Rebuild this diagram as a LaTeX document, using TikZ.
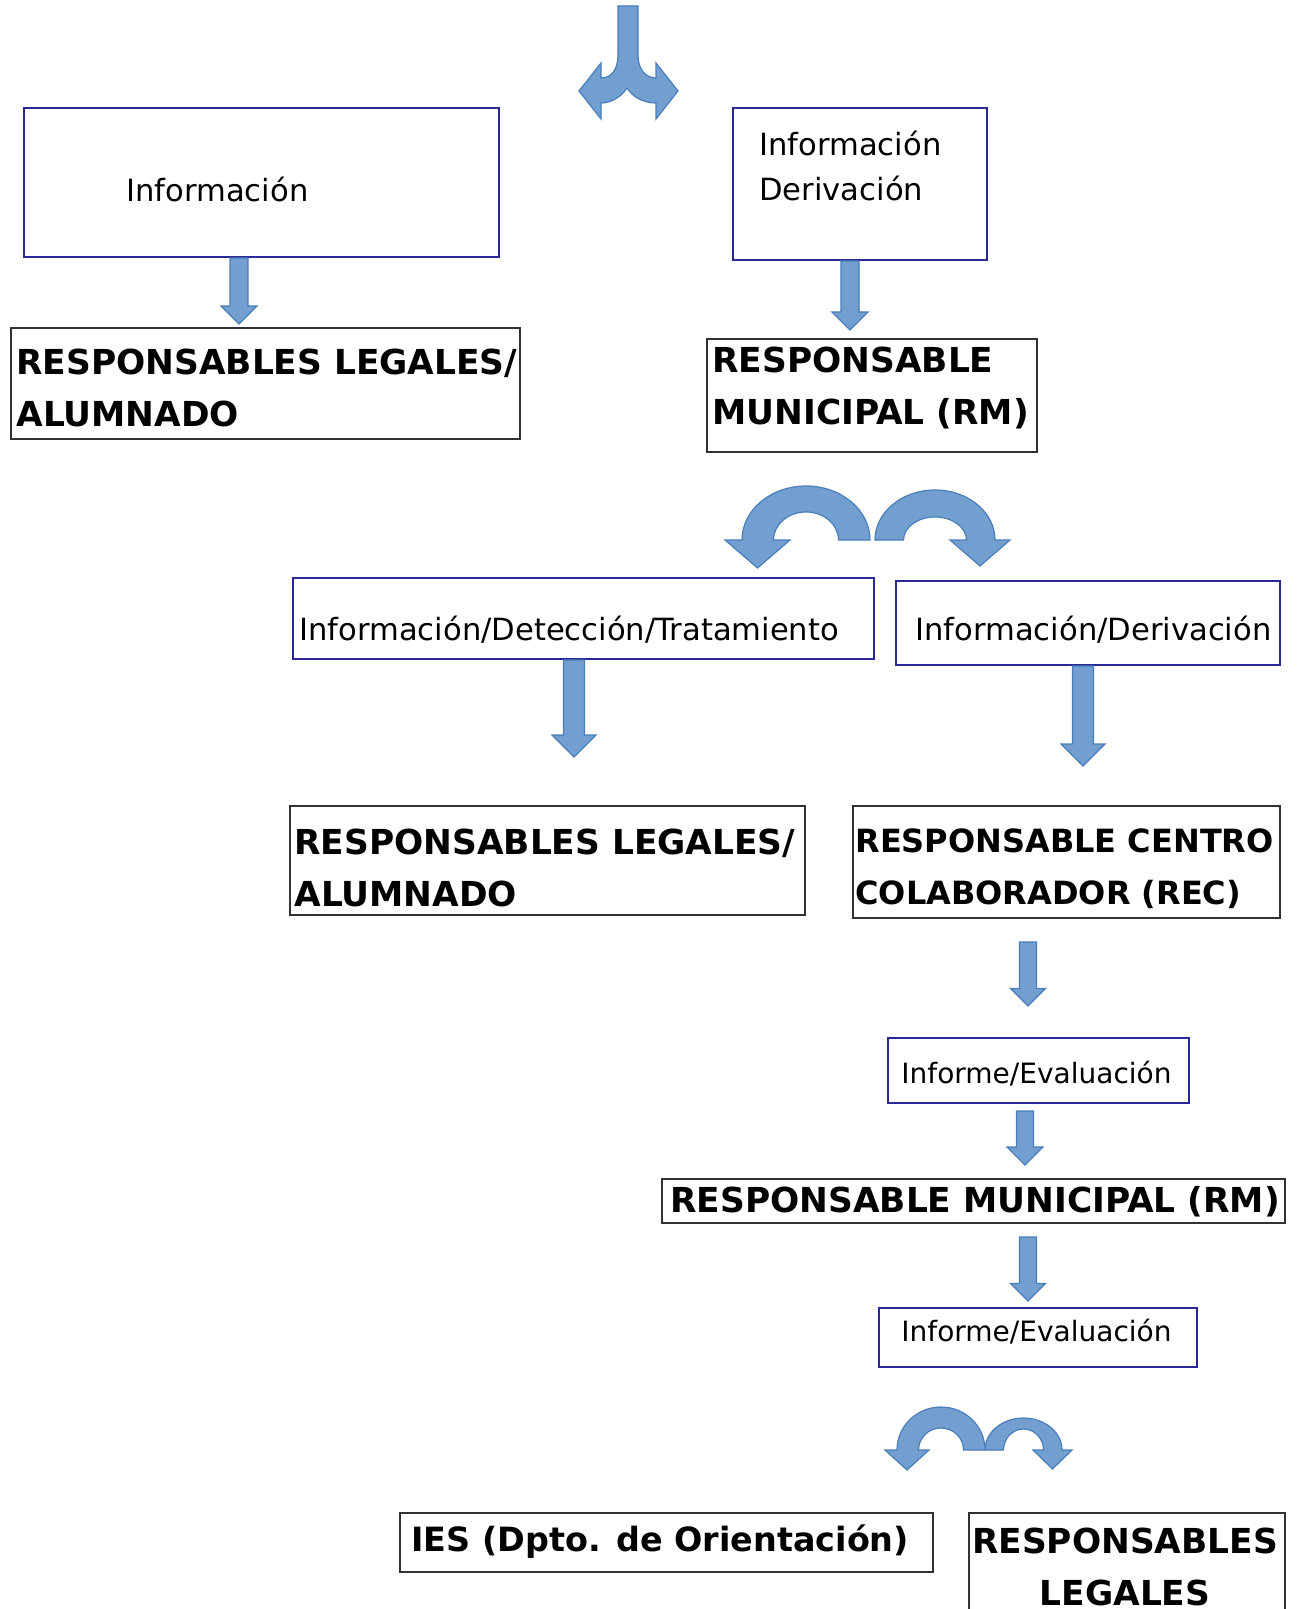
\documentclass[tikz,border=0pt]{standalone}
\usepackage{fontspec}
\setmainfont{DejaVu Sans}
\usetikzlibrary{fit}

\definecolor{arrowfill}{RGB}{114,159,207}
\definecolor{arrowline}{RGB}{74,126,187}
\definecolor{boxblue}{RGB}{40,40,150}
\definecolor{boxgray}{RGB}{50,50,50}

% block arrow pointing down: x, top, tip, half shaft, half head
\newcommand{\blockdown}[5]{%
  \draw[blockarrow] (#1-#4,#2) -- (#1+#4,#2) -- (#1+#4,#3-#5) -- (#1+#5,#3-#5)
    -- (#1,#3) -- (#1-#5,#3-#5) -- (#1-#4,#3-#5) -- cycle;}

\begin{document}
\begin{tikzpicture}[x=0.5pt,y=-0.5pt,
    blockarrow/.style={fill=arrowfill,draw=arrowline,line width=0.6pt},
    bluebox/.style={draw=boxblue,line width=0.7pt,inner sep=0pt},
    graybox/.style={draw=boxgray,line width=0.7pt,inner sep=0pt},
    txt/.style={anchor=west,inner sep=0pt,align=left,font=\fontsize{15.3}{22.5}\selectfont},
    smalltxt/.style={anchor=west,inner sep=0pt,font=\fontsize{14}{17}\selectfont},
    bigtxt/.style={anchor=west,inner sep=0pt,align=left,font=\fontsize{17.2}{26}\selectfont\bfseries}]
    \useasboundingbox (0,0) rectangle (1297,1609);
    \clip (0,0) rectangle (1297,1609);

    % boxes
    \node[bluebox,fit={(24,108) (499,257)}] (info) {};
    \node[bluebox,fit={(733,108) (987,260)}] (infoder) {};
    \node[graybox,fit={(11,328) (520,439)}] (legales) {};
    \node[graybox,fit={(707,339) (1037,452)}] (rm) {};
    \node[bluebox,fit={(293,578) (874,659)}] (detec) {};
    \node[bluebox,fit={(896,581) (1280,665)}] (deriv) {};
    \node[graybox,fit={(290,806) (805,915)}] (legales2) {};
    \node[graybox,fit={(853,806) (1280,918)}] (rec) {};
    \node[bluebox,fit={(888,1038) (1189,1103)}] (informe1) {};
    \node[graybox,fit={(662,1179) (1285,1223)}] (rm2) {};
    \node[bluebox,fit={(879,1308) (1197,1367)}] (informe2) {};
    \node[graybox,fit={(400,1513) (933,1572)}] (ies) {};
    \node[graybox,fit={(969,1513) (1285,1640)}] (legales3) {};

    % texts
    \node[txt] (infotxt) at (126,189) {Información};
    \node[txt] (infodertxt) at (759,165.5) {Información\\Derivación};
    \node[bigtxt] (legalestxt) at (16,388) {RESPONSABLES LEGALES/\\ALUMNADO};
    \node[bigtxt] (rmtxt) at (712,388) {RESPONSABLE\\MUNICIPAL (RM)};
    \node[txt] (detectxt) at (299,630) {Información/Detección/Tratamiento};
    \node[txt] (derivtxt) at (915,630) {Información/Derivación};
    \node[bigtxt] (legales2txt) at (294,868) {RESPONSABLES LEGALES/\\ALUMNADO};
    \node[bigtxt,font=\fontsize{16}{26}\selectfont\bfseries] (rectxt) at (855,869) {RESPONSABLE CENTRO\\COLABORADOR (REC)};
    \node[smalltxt] (informe1txt) at (901,1074) {Informe/Evaluación};
    \node[bigtxt] (rm2txt) at (670,1202) {RESPONSABLE MUNICIPAL (RM)};
    \node[smalltxt] (informe2txt) at (901,1332) {Informe/Evaluación};
    \node[bigtxt,font=\fontsize{16.7}{26}\selectfont\bfseries] (iestxt) at (411,1542) {IES (Dpto. de Orientación)};
    \node[bigtxt,anchor=center,align=center] (legales3txt) at (1125,1567) {RESPONSABLES\\LEGALES};

    % split arrow on top
    \draw[blockarrow] (618,6) -- (638,6) -- (638,55) .. controls (638,70) and (646,78) .. (656,78)
      -- (656,63) -- (678,91) -- (656,119) -- (656,103) .. controls (642,103) and (632,96) .. (627,88)
      .. controls (622,96) and (612,103) .. (601,103) -- (601,119) -- (579,91) -- (601,63) -- (601,78)
      .. controls (611,78) and (618,70) .. (618,55) -- cycle;

    % straight arrows
    \blockdown{239}{258}{324}{9}{18}
    \blockdown{850}{261}{330}{9}{18}
    \blockdown{574}{660}{757}{10.5}{22}
    \blockdown{1083}{666}{766}{10.5}{22}
    \blockdown{1028}{942}{1006}{8.5}{17.5}
    \blockdown{1025}{1111}{1165}{8.5}{18}
    \blockdown{1028}{1237}{1301}{8.5}{17.5}

    % curved arrows below RM
    \draw[blockarrow] (870,540) arc[start angle=0,end angle=-180,x radius=64,y radius=54]
      -- (725,540) -- (757.5,568) -- (790,540) -- (773.5,540)
      arc[start angle=-180,end angle=0,x radius=32.5,y radius=28] -- cycle;
    \draw[blockarrow] (875,540) arc[start angle=180,end angle=360,x radius=60,y radius=50]
      -- (1010,540) -- (980,566) -- (950,540) -- (966.5,540)
      arc[start angle=0,end angle=-180,x radius=31.5,y radius=23] -- cycle;

    % curved arrows at the bottom
    \draw[blockarrow] (985,1450) arc[start angle=0,end angle=-180,x radius=44,y radius=43]
      -- (885,1450) -- (907,1470) -- (929,1450) -- (918.5,1450)
      arc[start angle=-180,end angle=0,x radius=22.5,y radius=22] -- cycle;
    \draw[blockarrow] (985,1450) arc[start angle=180,end angle=360,x radius=38.5,y radius=32]
      -- (1072,1450) -- (1052.5,1469) -- (1033,1450) -- (1043.5,1450)
      arc[start angle=0,end angle=-180,x radius=20,y radius=21] -- cycle;
\end{tikzpicture}
\end{document}
